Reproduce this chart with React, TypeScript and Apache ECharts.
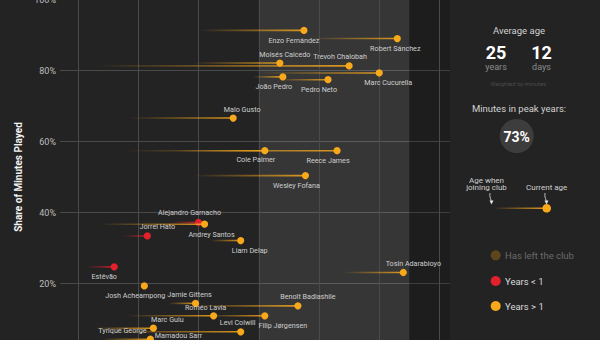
import React, { useEffect, useRef } from "react";
import * as echarts from "echarts";

const players = ["Enzo Fernández", "Robert Sánchez", "Moisés Caicedo", "Trevoh Chalobah", "Marc Cucurella", "João Pedro", "Pedro Neto", "Malo Gusto", "Cole Palmer", "Reece James", "Wesley Fofana", "Alejandro Garnacho", "Andrey Santos", "Jorrel Hato", "Liam Delap", "Estêvão", "Tosin Adarabioyo", "Josh Acheampong", "Jamie Gittens", "Benoît Badiashile", "Roméo Lavia", "Filip Jørgensen", "Marc Guiu", "Levi Colwill", "Tyrique George", "Mamadou Sarr"];
const ageJoined = [22.0, 25.7, 21.8, 18.6, 24.0, 23.8, 24.6, 19.7, 21.3, 19.5, 21.8, 21.1, 18.7, 19.5, 22.4, 18.3, 26.8, 20.1, 21.0, 21.7, 19.6, 22.2, 18.5, 19.0, 18.8, 20.2];
const ageNow = [25.5, 28.6, 24.7, 27.0, 28.0, 24.8, 26.3, 23.15, 24.2, 26.6, 25.55, 22.0, 22.2, 20.3, 23.4, 19.2, 28.8, 20.2, 21.9, 25.3, 22.5, 24.2, 20.5, 23.4, 20.4, 20.9];
const minutesShare = [91.3, 89.0, 82.1, 81.3, 79.3, 78.2, 77.4, 66.6, 57.4, 57.4, 50.4, 37.2, 36.7, 33.4, 32.1, 24.7, 23.1, 19.3, 14.4, 13.7, 10.9, 10.9, 7.4, 6.4, 4.3, 2.6];
const tenure = [">1", ">1", ">1", ">1", ">1", ">1", ">1", ">1", ">1", ">1", ">1", "<1", ">1", "<1", ">1", "<1", ">1", ">1", ">1", ">1", ">1", ">1", ">1", ">1", ">1", ">1"];

const peakYears = [24, 29];
const gridAges = [18, 20, 22, 24, 26, 28, 30];
const yTicks = [0, 20, 40, 60, 80, 100];
const averageAge = { years: "25", days: "12" };
const peakMinutes = "73%";

// label layout (offset of each name from its dot, in px)
const labelOffsets = [[-10, 10], [-2, 10], [5, -9], [-9, -9], [9, 10], [-9, 9.5], [-9, 9.5], [9, -8.5], [-9, 9], [-9, 10], [-9, 9.5], [-9, -9.5], [7, 10], [10, -9], [9, 9.5], [-10, 10], [10, -9], [-9, 10], [-6, -8.5], [10, -9], [-8, -8], [18, 10], [14, -9], [-3, -9.5], [-28, -9], [13, -9.5]];

const ORANGE = "#f7a81b";
const ORANGE_RGB = "247,168,27";
const RED = "#e4202c";
const RED_RGB = "228,32,44";
const FONT = "Roboto";
const OY = 20; // chart canvas starts 20px above the visible frame

export default function App() {
  const ref = useRef<HTMLDivElement>(null);
  useEffect(() => {
    if (!ref.current) return;
    const chart = echarts.init(ref.current, null, { renderer: "svg" });
    const data = players.map((n, i) => [ageJoined[i], ageNow[i], minutesShare[i], i]);
    const grad = (rgb: string, a: number) =>
      new echarts.graphic.LinearGradient(0, 0, 1, 0, [
        { offset: 0, color: `rgba(${rgb},0)` },
        { offset: 1, color: `rgba(${rgb},${a})` },
      ]);
    const renderItem = (params: any, api: any) => {
      const i = api.value(3);
      const s = api.coord([api.value(0), api.value(2)]);
      const e = api.coord([api.value(1), api.value(2)]);
      const red = tenure[i] === "<1";
      const col = red ? RED : ORANGE;
      const rgb = red ? RED_RGB : ORANGE_RGB;
      const [dx, dy] = labelOffsets[i];
      return {
        type: "group",
        children: [
          {
            type: "rect",
            shape: { x: s[0], y: s[1] - 0.8, width: Math.max(e[0] - s[0], 0.1), height: 1.6 },
            style: { fill: grad(rgb, 0.85) },
          },
          { type: "circle", shape: { cx: e[0], cy: e[1], r: 3.6 }, style: { fill: col } },
          {
            type: "text",
            x: e[0] + dx,
            y: e[1] + dy,
            style: {
              text: players[i], fill: "#cfcfcf", fontSize: 7.2, fontFamily: FONT,
              align: "center", verticalAlign: "middle",
            },
          },
        ],
      };
    };
    const txt = (text: string, x: number, y: number, size: number, fill: string, weight: any = "normal", align = "center") => ({
      type: "text", x, y: y + OY, silent: true,
      style: { text, fill, fontSize: size, fontWeight: weight, fontFamily: FONT, align, verticalAlign: "middle" },
    });
    const cx = 519;
    const graphic: any[] = [
      txt("Average age", cx, 30, 9.5, "#d2d2d2"),
      txt(averageAge.years, 496, 52, 18, "#ffffff", "bold"),
      txt(averageAge.days, 541.5, 52, 18, "#ffffff", "bold"),
      txt("years", 496, 67, 9, "#8c8c8c"),
      txt("days", 541.5, 67, 9, "#8c8c8c"),
      txt("Weighted by minutes", 518.5, 83, 6, "#4a4a4a"),
      txt("Minutes in peak years:", cx, 108, 9.5, "#d2d2d2"),
      { type: "circle", shape: { cx: 516.7, cy: 136 + OY, r: 17 }, style: { fill: "#3d3d3d" } },
      txt(peakMinutes, 516.7, 136.5, 14, "#ffffff", "bold"),
      txt("Age when", 486.5, 180, 8, "#d0d0d0"),
      txt("joining club", 486.5, 187.5, 8, "#d0d0d0"),
      txt("Current age", 546.7, 187, 8, "#d0d0d0"),
      { type: "bezierCurve", shape: { x1: 490, y1: 193 + OY, x2: 491.5, y2: 202 + OY, cpx1: 489, cpy1: 197 + OY, cpx2: 491.5, cpy2: 200 + OY }, style: { stroke: "#e0e0e0", lineWidth: 0.8, fill: null } },
      { type: "polygon", shape: { points: [[489.5, 200.5 + OY], [493.5, 200.5 + OY], [491.5, 204.5 + OY]] }, style: { fill: "#e0e0e0" } },
      { type: "bezierCurve", shape: { x1: 545, y1: 193 + OY, x2: 546.5, y2: 202 + OY, cpx1: 544, cpy1: 197 + OY, cpx2: 546.5, cpy2: 200 + OY }, style: { stroke: "#e0e0e0", lineWidth: 0.8, fill: null } },
      { type: "polygon", shape: { points: [[544.5, 200.5 + OY], [548.5, 200.5 + OY], [546.5, 204.5 + OY]] }, style: { fill: "#e0e0e0" } },
      { type: "rect", shape: { x: 493, y: 207.5 + OY, width: 53, height: 1.6 }, style: { fill: grad(ORANGE_RGB, 0.9) } },
      { type: "circle", shape: { cx: 546.7, cy: 208.3 + OY, r: 4.3 }, style: { fill: ORANGE } },
      { type: "circle", shape: { cx: 495.7, cy: 255.3 + OY, r: 5 }, style: { fill: "#5e461c" } },
      txt("Has left the club", 505, 255.5, 9.5, "#6a6a6a", "normal", "left"),
      { type: "circle", shape: { cx: 495.7, cy: 281 + OY, r: 5 }, style: { fill: RED } },
      txt("Years < 1", 505, 281, 9.5, "#d8d8d8", "normal", "left"),
      { type: "circle", shape: { cx: 495.7, cy: 306 + OY, r: 5 }, style: { fill: ORANGE } },
      txt("Years > 1", 505, 306, 9.5, "#d8d8d8", "normal", "left"),
    ];
    chart.setOption({
      animation: false,
      backgroundColor: "#232323",
      textStyle: { fontFamily: FONT },
      grid: { left: 60, right: 150, top: OY - 0.5, bottom: 440 - OY - 354.5 },
      xAxis: {
        type: "value", min: 17.4, max: 30.35,
        axisLabel: { show: false }, axisLine: { show: false }, axisTick: { show: false }, splitLine: { show: false },
      },
      yAxis: {
        type: "value", min: yTicks[0], max: yTicks[yTicks.length - 1], interval: 20,
        name: "Share of Minutes Played", nameLocation: "middle", nameGap: 32,
        nameTextStyle: { color: "#f2f2f2", fontSize: 10, fontWeight: "bold", fontFamily: FONT },
        axisLabel: { formatter: "{value}%", color: "#bdbdbd", fontSize: 9, margin: 4, fontFamily: FONT },
        axisLine: { show: false }, axisTick: { show: false },
        splitLine: { lineStyle: { color: "#4a4a4a", width: 1 } },
      },
      series: [
        {
          type: "line",
          data: [[17.4, 0]],
          showSymbol: false,
          lineStyle: { opacity: 0 },
          silent: true,
          markArea: {
            silent: true,
            data: [
              [{ xAxis: peakYears[0], itemStyle: { color: "rgba(255,255,255,0.09)" } }, { xAxis: peakYears[1] }],
              [{ xAxis: peakYears[1], itemStyle: { color: "rgba(0,0,0,0.15)" } }, { xAxis: 30.35 }],
            ],
          },
          markLine: {
            silent: true, symbol: "none", label: { show: false },
            lineStyle: { color: "#4a4a4a", type: "solid", width: 1 },
            data: gridAges.map((a) => ({ xAxis: a })),
          },
        },
        {
          type: "custom",
          renderItem,
          data,
          encode: { x: [0, 1], y: 2 },
          clip: false,
          z: 10,
        },
      ],
      graphic,
    });
    return () => chart.dispose();
  }, []);
  return (
    <div style={{ position: "fixed", left: 0, top: 0, width: 600, height: 340, overflow: "hidden", background: "#232323" }}>
      <div ref={ref} style={{ position: "absolute", left: 0, top: -OY, width: 600, height: 440 }} />
    </div>
  );
}
